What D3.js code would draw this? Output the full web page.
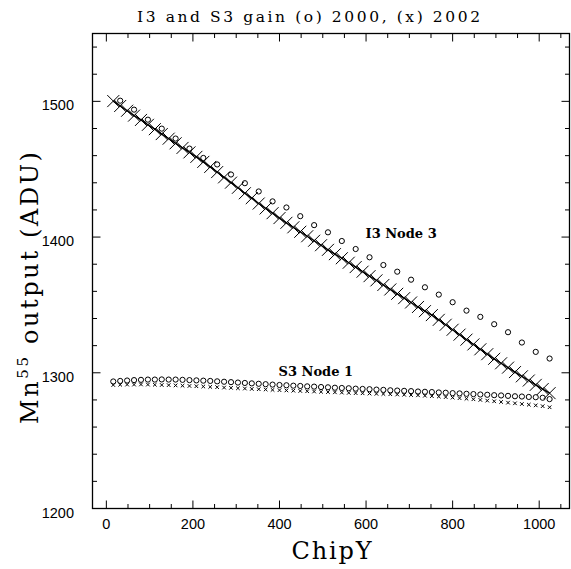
<!DOCTYPE html>
<html>
<head>
<meta charset="utf-8">
<script src="https://cdn.jsdelivr.net/npm/d3@7"></script>
<style>
  html, body { margin: 0; padding: 0; background: #fff; }
  svg { display: block; }
</style>
</head>
<body>
<svg id="chart" width="571" height="569"></svg>
<script>
// ---------------- data ----------------
const titleText = "I3 and S3 gain (o) 2000, (x) 2002";
const xLabel = "ChipY";
const xTicks = [0, 200, 400, 600, 800, 1000];
const yTicks = [1200, 1300, 1400, 1500];

// I3 Node 3, 2000 (circles), every 32 rows
const i3ChipY2000 = [32,64,96,128,160,192,224,256,288,320,352,384,416,448,480,512,
  544,576,608,640,672,704,736,768,800,832,864,896,928,960,992,1024];
const i3Gain2000 = [1500.5,1493.9,1486.5,1479.9,1472.6,1465.2,1458.3,1453.5,1446.1,1439.7,
  1433.6,1426.3,1421.8,1415.4,1408.8,1403.5,1397.1,1391.2,1385.1,1379.4,1374.5,1368.6,
  1363.0,1357.6,1352.0,1345.8,1341.2,1335.8,1329.9,1322.3,1315.4,1310.5];

// I3 Node 3, 2002 (crosses), every 16 rows
const i3ChipY2002 = [16,32,48,64,80,96,112,128,144,160,176,192,208,224,240,256,
  272,288,304,320,336,352,368,384,400,416,432,448,464,480,496,512,
  528,544,560,576,592,608,624,640,656,672,688,704,720,736,752,768,
  784,800,816,832,848,864,880,896,912,928,944,960,976,992,1008,1024];
const i3Gain2002 = [1500.2,1496.6,1493.1,1489.5,1486.3,1482.7,1479.5,1475.9,1472.5,1469.1,
  1465.7,1462.4,1459.1,1455.4,1451.7,1447.9,1444.0,1440.1,1436.3,1432.3,1428.7,1424.7,
  1421.1,1417.6,1414.0,1410.5,1407.2,1403.9,1400.6,1397.3,1394.0,1390.6,1387.4,1384.4,
  1381.1,1377.9,1374.5,1371.2,1368.1,1364.7,1361.4,1358.2,1355.0,1351.8,1348.5,1345.4,
  1342.5,1339.0,1335.4,1331.7,1328.1,1324.4,1320.9,1317.3,1313.7,1310.3,1307.0,1303.8,
  1300.5,1297.4,1294.3,1291.1,1288.0,1285.0];

// S3 Node 1, every 16 rows: 2000 (circles), 2002 (crosses)
const s3ChipY = i3ChipY2002;
const s3Gain2000 = [1293.6,1294.0,1294.3,1294.6,1294.8,1295.0,1295.0,1295.1,1295.0,1295.0,
  1294.8,1294.6,1294.4,1294.2,1294.0,1293.7,1293.4,1293.1,1292.8,1292.5,1292.2,1291.9,
  1291.6,1291.3,1291.0,1290.8,1290.5,1290.3,1290.0,1289.8,1289.5,1289.3,1289.0,1288.8,
  1288.6,1288.3,1288.1,1287.9,1287.6,1287.4,1287.1,1286.9,1286.7,1286.5,1286.2,1286.0,
  1285.8,1285.5,1285.3,1285.0,1284.8,1284.5,1284.3,1284.0,1283.8,1283.5,1283.3,1283.0,
  1282.7,1282.5,1282.2,1282.0,1281.6,1280.6];
const s3Gain2002 = [1291.0,1291.2,1291.3,1291.3,1291.4,1291.3,1291.2,1291.0,1290.9,1290.7,
  1290.5,1290.3,1290.1,1289.9,1289.6,1289.4,1289.1,1288.9,1288.6,1288.4,1288.1,1287.9,
  1287.7,1287.4,1287.2,1287.0,1286.8,1286.6,1286.4,1286.2,1286.0,1285.8,1285.6,1285.4,
  1285.2,1285.0,1284.9,1284.7,1284.5,1284.4,1284.2,1284.0,1283.8,1283.6,1283.4,1283.1,
  1282.8,1282.5,1282.1,1281.7,1281.3,1280.9,1280.5,1280.0,1279.5,1279.0,1278.5,1278.0,
  1277.5,1277.0,1276.5,1276.0,1275.4,1274.6];

const annotations = [
  { text: "I3 Node 3", x: 681, y: 1399 },
  { text: "S3 Node 1", x: 484, y: 1298 }
];

// ---------------- layout ----------------
const svg = d3.select("#chart");
const L = 92.5, R = 569.5, T = 33.5, B = 508.5;

const x = d3.scaleLinear().domain([-32, 1070]).range([L, R]);
const y = d3.scaleLinear().domain([1200, 1550]).range([B, T]);

const serif = "'DejaVu Serif', 'Liberation Serif', serif";
const sans = "'Liberation Sans', Arial, sans-serif";

// frame
svg.append("rect").attr("x", L).attr("y", T).attr("width", R - L).attr("height", B - T)
  .attr("fill", "none").attr("stroke", "#000").attr("stroke-width", 1.3);

// ticks (inward) on all four sides
const xMinor = d3.range(0, 1051, 50);
const yMinor = d3.range(1200, 1551, 20);
const tickG = svg.append("g").attr("stroke", "#000").attr("stroke-width", 1);
xMinor.forEach(v => {
  const major = v % 200 === 0;
  const len = major ? 8 : 4.5;
  tickG.append("line").attr("x1", x(v)).attr("x2", x(v)).attr("y1", B).attr("y2", B - len);
  tickG.append("line").attr("x1", x(v)).attr("x2", x(v)).attr("y1", T).attr("y2", T + len);
});
yMinor.forEach(v => {
  const major = v % 100 === 0;
  const len = major ? 8 : 4.5;
  tickG.append("line").attr("y1", y(v)).attr("y2", y(v)).attr("x1", L).attr("x2", L + len);
  tickG.append("line").attr("y1", y(v)).attr("y2", y(v)).attr("x1", R).attr("x2", R - len);
});

// tick labels
svg.append("g").selectAll("text").data(xTicks).join("text")
  .attr("x", d => x(d)).attr("y", 529)
  .attr("text-anchor", "middle").attr("font-family", sans).attr("font-size", 14.5)
  .text(d => d);
svg.append("g").selectAll("text").data(yTicks).join("text")
  .attr("x", 74).attr("y", d => y(d) + 9)
  .attr("text-anchor", "end").attr("font-family", sans).attr("font-size", 14.5)
  .text(d => d);

// title
svg.append("text").attr("x", 308.5).attr("y", 22).attr("text-anchor", "middle")
  .attr("font-family", serif).attr("font-size", 15.5)
  .attr("textLength", 343).attr("lengthAdjust", "spacing")
  .text(titleText);

// x label
svg.append("text").attr("x", 331.5).attr("y", 559).attr("text-anchor", "middle")
  .attr("font-family", serif).attr("font-size", 24)
  .attr("textLength", 80).attr("lengthAdjust", "spacing")
  .text(xLabel);

// y label
const yl = svg.append("text").attr("transform", "translate(38,288) rotate(-90)")
  .attr("text-anchor", "middle").attr("font-family", serif).attr("font-size", 24)
  .attr("textLength", 272).attr("lengthAdjust", "spacing");
yl.append("tspan").text("Mn");
yl.append("tspan").attr("dy", -10).attr("font-size", 15).text("55");
yl.append("tspan").attr("dy", 10).text(" output (ADU)");

// annotations
svg.append("g").selectAll("text").data(annotations).join("text")
  .attr("x", d => x(d.x)).attr("y", d => y(d.y)).attr("text-anchor", "middle")
  .attr("font-family", serif).attr("font-size", 13).attr("font-weight", "bold")
  .text(d => d.text);

// ---------------- marks ----------------
const i3c = i3ChipY2002.map((c, i) => [c, i3Gain2002[i]]);
svg.append("path").datum(i3c)
  .attr("d", d3.line().x(d => x(d[0])).y(d => y(d[1])))
  .attr("fill", "none").attr("stroke", "#000").attr("stroke-width", 1.4);

function cross(g, data, h, sw) {
  g.selectAll("path.c").data(data).join("path").attr("class", "c")
    .attr("d", d => {
      const cx = x(d[0]), cy = y(d[1]);
      return `M${cx - h},${cy - h}L${cx + h},${cy + h}M${cx - h},${cy + h}L${cx + h},${cy - h}`;
    })
    .attr("stroke", "#000").attr("stroke-width", sw).attr("fill", "none");
}
cross(svg.append("g"), i3c, 6, 1);

svg.append("g").selectAll("circle").data(i3ChipY2000.map((c, i) => [c, i3Gain2000[i]])).join("circle")
  .attr("cx", d => x(d[0])).attr("cy", d => y(d[1])).attr("r", 2.6)
  .attr("fill", "none").attr("stroke", "#000").attr("stroke-width", 1);

cross(svg.append("g"), s3ChipY.map((c, i) => [c, s3Gain2002[i]]), 1.8, 1);

svg.append("g").selectAll("circle").data(s3ChipY.map((c, i) => [c, s3Gain2000[i]])).join("circle")
  .attr("cx", d => x(d[0])).attr("cy", d => y(d[1])).attr("r", 2.6)
  .attr("fill", "none").attr("stroke", "#000").attr("stroke-width", 1);
</script>
</body>
</html>
